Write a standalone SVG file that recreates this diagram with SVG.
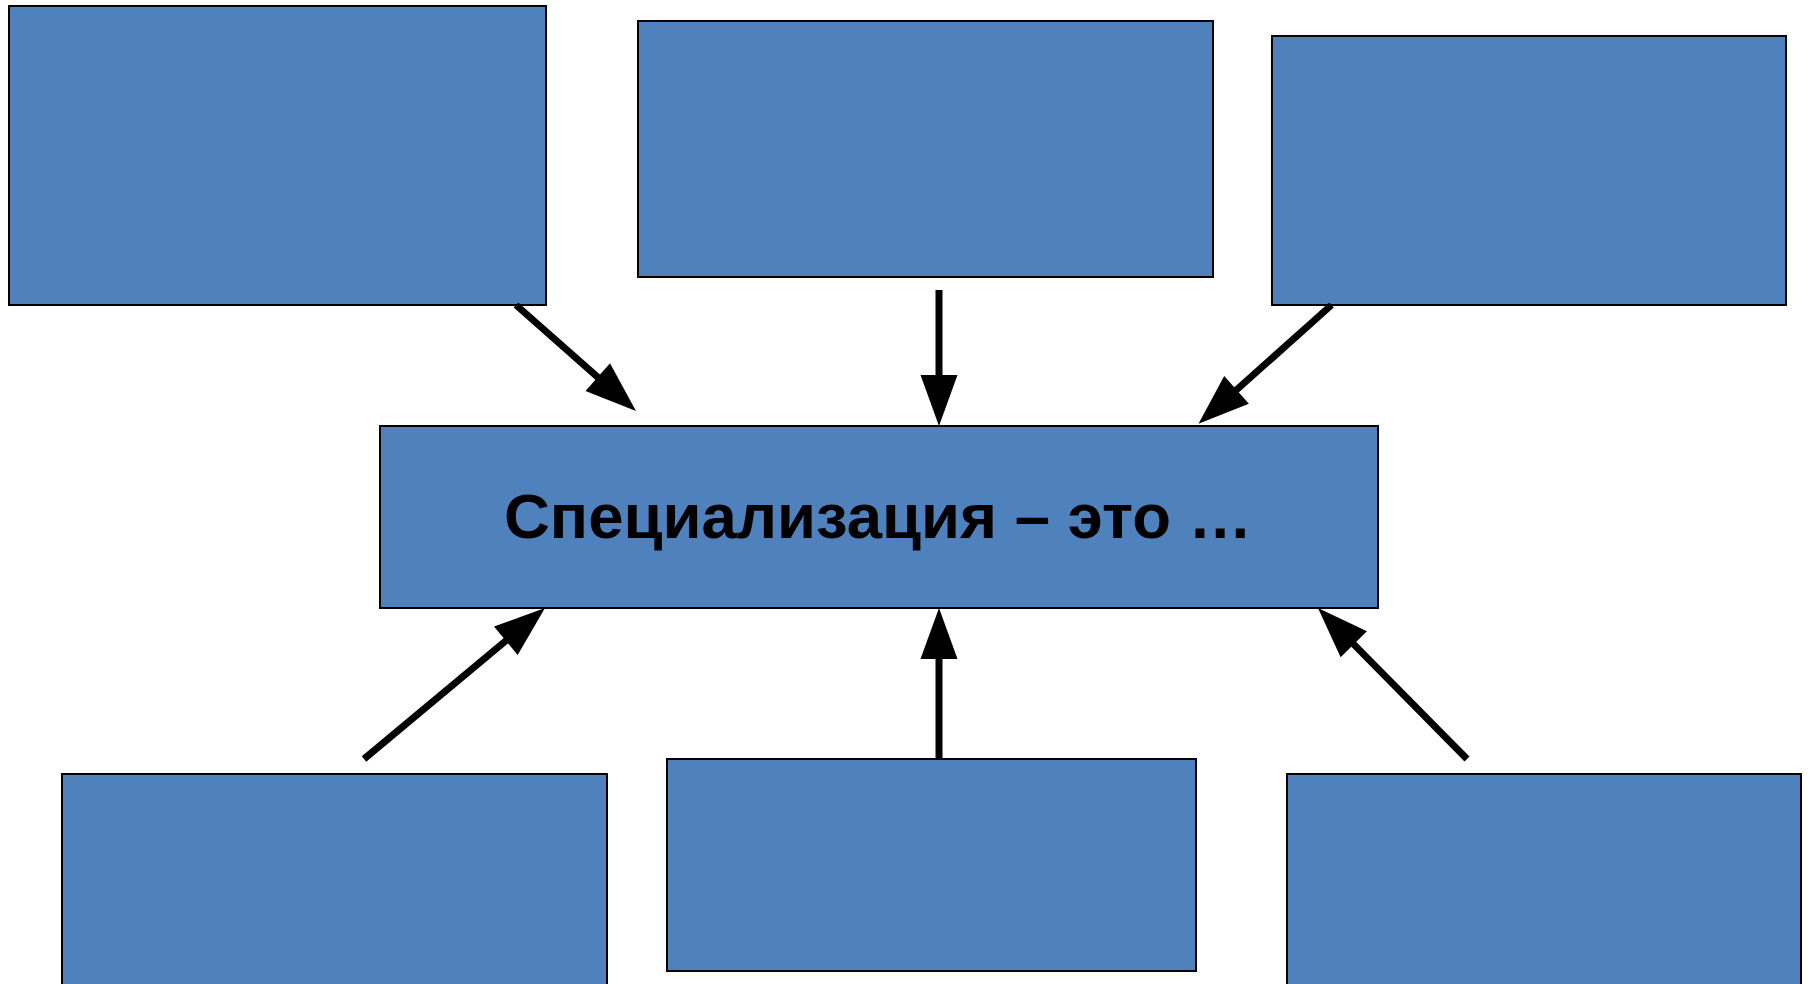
<svg xmlns="http://www.w3.org/2000/svg" width="1810" height="984" viewBox="0 0 1810 984">
<style>
.box{fill:#4F81BD;stroke:#000;stroke-width:2}
.conn{stroke:#000;stroke-width:7;fill:none;marker-end:url(#ah)}
.lbl{font-family:"Liberation Sans",Arial,sans-serif;font-weight:bold;font-size:63px;fill:#000}
</style>
<defs>
<marker id="ah" markerUnits="userSpaceOnUse" markerWidth="60" markerHeight="40" viewBox="0 -20 52 40" refX="1" refY="0" orient="auto">
<path d="M0,-18.5 L51,0 L0,18.5 Z" fill="#000"/>
</marker>
</defs>
<rect width="1810" height="984" fill="#fff"/>
<g id="box-top-left"><rect class="box" x="9" y="6" width="537" height="299"/></g>
<g id="box-top-middle"><rect class="box" x="638" y="21" width="575" height="256"/></g>
<g id="box-top-right"><rect class="box" x="1272" y="36" width="514" height="269"/></g>
<g id="box-center"><rect class="box" x="380" y="426" width="998" height="182"/>
<text class="lbl" x="878" y="538" text-anchor="middle" textLength="748" lengthAdjust="spacingAndGlyphs">Специализация – это …</text></g>
<g id="box-bottom-left"><rect class="box" x="62" y="774" width="545" height="230"/></g>
<g id="box-bottom-middle"><rect class="box" x="667" y="759" width="529" height="212"/></g>
<g id="box-bottom-right"><rect class="box" x="1287" y="774" width="514" height="230"/></g>
<g id="connectors">
<line class="conn" x1="516" y1="305" x2="598.5" y2="377.8"/>
<line class="conn" x1="939" y1="290" x2="939" y2="376"/>
<line class="conn" x1="1331.5" y1="305" x2="1235.8" y2="390.5"/>
<line class="conn" x1="364" y1="759" x2="506.6" y2="640.1"/>
<line class="conn" x1="939" y1="758" x2="939" y2="658"/>
<line class="conn" x1="1467" y1="759" x2="1353.1" y2="643.6"/>
</g>
</svg>
